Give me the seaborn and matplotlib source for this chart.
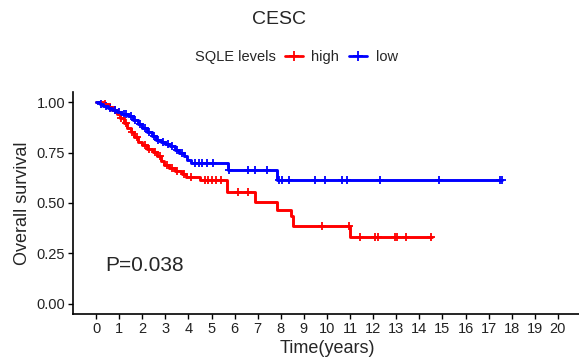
import matplotlib

matplotlib.use("Agg")
import matplotlib.pyplot as plt
import numpy as np
import pandas as pd
import seaborn as sns
from matplotlib.lines import Line2D

# Kaplan-Meier step curves (drop time, survival after drop)
high_times = [0, 0.3, 0.5, 0.7, 0.9, 1.05, 1.2, 1.35, 1.5, 1.65, 1.8, 2.0, 2.2, 2.45,
              2.65, 2.8, 2.95, 3.15, 3.4, 3.7, 3.9, 4.5, 5.66, 6.9, 7.84, 8.43, 8.53, 11.0]
high_surv = [1.0, 0.99, 0.975, 0.96, 0.94, 0.92, 0.895, 0.87, 0.85, 0.825, 0.80, 0.785,
             0.77, 0.755, 0.735, 0.71, 0.69, 0.675, 0.66, 0.645, 0.63, 0.612, 0.554,
             0.505, 0.463, 0.434, 0.384, 0.334]
high_end = 14.55
high_censor = [0.4, 0.6, 0.8, 1.1, 1.3, 1.55, 1.75, 2.1, 2.3, 2.55, 2.75, 3.05, 3.3, 3.5,
               3.8, 4.1, 4.7, 4.85, 5.0, 5.2, 5.4, 6.15, 6.6, 9.8, 10.95, 11.45, 12.1,
               12.2, 12.95, 13.05, 13.4, 14.5]

low_times = [0, 0.15, 0.3, 0.5, 0.7, 0.9, 1.1, 1.4, 1.6, 1.8, 2.0, 2.2, 2.4, 2.6, 2.8,
             3.0, 3.2, 3.4, 3.6, 3.8, 3.95, 4.1, 5.7, 7.85]
low_surv = [1.0, 0.99, 0.98, 0.97, 0.96, 0.95, 0.94, 0.93, 0.91, 0.89, 0.87, 0.85, 0.83,
            0.81, 0.80, 0.79, 0.78, 0.765, 0.75, 0.735, 0.715, 0.70, 0.662, 0.612]
low_end = 17.6
low_censor = [0.2, 0.45, 0.6, 0.8, 1.0, 1.2, 1.3, 1.5, 1.7, 1.9, 2.1, 2.3, 2.5, 2.7, 2.9,
              3.1, 3.3, 3.5, 3.7, 4.3, 4.45, 4.6, 4.8, 5.05, 5.75, 6.6, 6.9, 7.4, 7.9,
              8.05, 8.35, 9.5, 9.9, 10.65, 10.85, 12.3, 14.85, 17.5, 17.6]

groups = ["high", "low"]
colors = {"high": "#FF0000", "low": "#0000FF"}
p_text = "P=0.038"


def curve(times, surv, end, name):
    t = list(times) + [end]
    s = list(surv) + [surv[-1]]
    return pd.DataFrame({"time": t, "surv": s, "group": name})


def censor(times, surv, ctimes, name):
    idx = np.searchsorted(times, ctimes, side="right") - 1
    return pd.DataFrame({"time": ctimes, "surv": np.array(surv)[idx], "group": name})


curves = pd.concat([curve(high_times, high_surv, high_end, "high"),
                    curve(low_times, low_surv, low_end, "low")])
marks = pd.concat([censor(high_times, high_surv, high_censor, "high"),
                   censor(low_times, low_surv, low_censor, "low")])

sns.set_theme(style="ticks")
plt.rcParams["font.family"] = ["Liberation Sans", "DejaVu Sans"]

W, H = 579, 362
fig = plt.figure(figsize=(W / 100, H / 100), dpi=100)
ax = fig.add_axes([73 / W, 1 - 314 / H, 508 / W, (314 - 92) / H])

for g in groups:
    d = curves[curves["group"] == g]
    sns.lineplot(data=d, x="time", y="surv", color=colors[g], drawstyle="steps-post",
                 estimator=None, sort=False, lw=2.1, ax=ax, legend=False)
    m = marks[marks["group"] == g]
    sns.scatterplot(data=m, x="time", y="surv", color=colors[g], marker="+", s=36,
                    linewidth=1.3, ax=ax, legend=False)

ax.set_xlim(-1, 21)
ax.set_ylim(-0.05, 1.05)
ax.set_xticks(range(0, 21))
ax.set_yticks([0, 0.25, 0.5, 0.75, 1.0])
ax.set_yticklabels(["0.00", "0.25", "0.50", "0.75", "1.00"])
ax.tick_params(axis="both", length=3.5, width=1, color="black", labelsize=10.5,
               labelcolor="#222222", pad=2)
sns.despine(ax=ax)
for sp in ["left", "bottom"]:
    ax.spines[sp].set_color("black")
    ax.spines[sp].set_linewidth(1.2)
ax.set_xlabel("Time(years)", fontsize=13, labelpad=3)
ax.set_ylabel("Overall survival", fontsize=13, labelpad=4)

ax.text(0.4, 0.19, p_text, fontsize=15, va="center", ha="left")

fig.text(279 / W, 1 - 20 / H, "CESC", fontsize=14, ha="center", va="center")
fig.text(195 / W, 1 - 57 / H, "SQLE levels", fontsize=10.5, ha="left", va="center")
handles = [Line2D([], [], color=colors[g], lw=2, marker="+", markersize=6.5, mew=1.3)
           for g in groups]
fig.legend(handles, groups, loc="center left", bbox_to_anchor=(285 / W, 1 - 57 / H),
           ncol=2, frameon=False, fontsize=10.5, handlelength=1.2, handletextpad=0.6,
           columnspacing=0.7, borderaxespad=0, borderpad=0)

fig.savefig("out.png", dpi=100)
